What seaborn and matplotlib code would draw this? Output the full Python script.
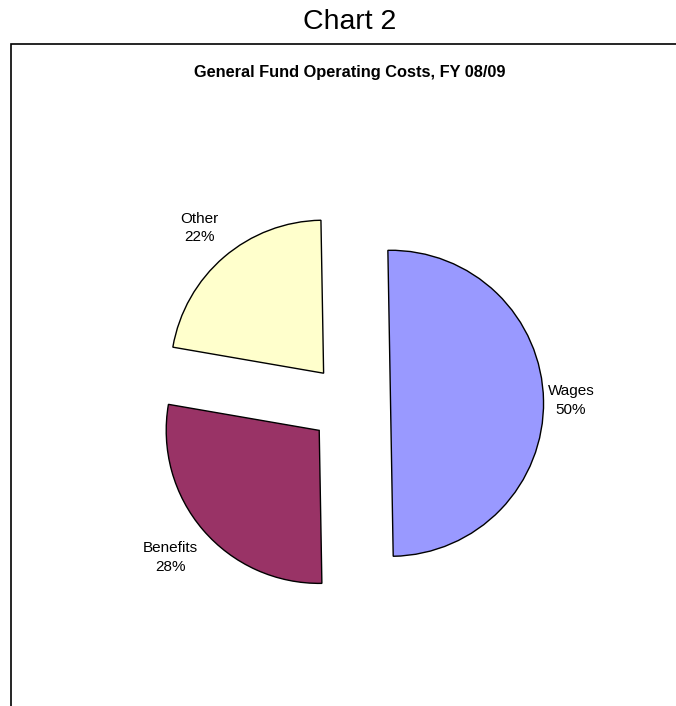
import matplotlib.pyplot as plt
from matplotlib.patches import Rectangle
import seaborn as sns

sns.set_style("white")
plt.rcParams['font.family'] = ['Liberation Sans', 'DejaVu Sans']
plt.rcParams['text.color'] = 'black'

categories = ['Wages', 'Benefits', 'Other']
shares = [50, 28, 22]
colors = ['#9999FF', '#993366', '#FFFFCC']
label_dist = [1.18, 1.28, 1.25]

W, H = 676, 706
cx, cy, r = 350, 404, 153  # pie centre and radius in pixels

fig = plt.figure(figsize=(W / 100, H / 100), dpi=100)
ax = fig.add_axes([0, 0, 1, 1])

wedges, texts = ax.pie(shares, labels=[f"{c}\n{v}%" for c, v in zip(categories, shares)],
                       colors=colors, startangle=91, counterclock=False,
                       explode=[0.265] * 3, labeldistance=1.2,
                       wedgeprops=dict(edgecolor='black', linewidth=1.0),
                       textprops=dict(fontsize=11, linespacing=1.45, color='black'))

# push each label out to its own distance
for t, w, d in zip(texts, wedges, label_dist):
    x, y = t.get_position()
    ox, oy = w.center
    t.set_position((ox + (x - ox) * d / 1.2, oy + (y - oy) * d / 1.2))
    t.set_ha('center')
    t.set_va('center')

ax.set_xlim(-cx / r, (W - cx) / r)
ax.set_ylim(-(H - cy) / r, cy / r)
ax.axis('off')

fig.add_artist(Rectangle((11 / W, -0.1), 1.2, 1.1 - 44 / H, transform=fig.transFigure,
                         fill=False, edgecolor='black', linewidth=1.2))
fig.text(350 / W, 1 - 22 / H, "Chart 2", fontsize=20.5, ha='center', va='center')
fig.text(350 / W, 1 - 73 / H, "General Fund Operating Costs, FY 08/09", fontsize=11.8,
         fontweight='bold', ha='center', va='center')

fig.savefig('out.png', dpi=100)
